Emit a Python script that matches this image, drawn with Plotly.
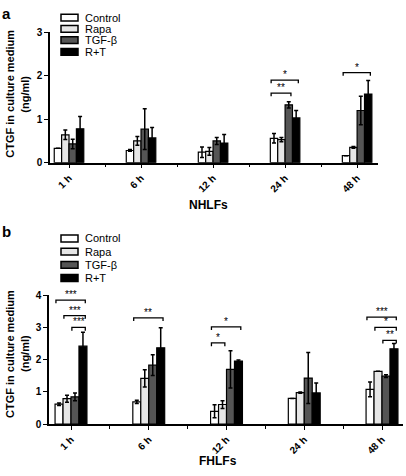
import plotly.graph_objects as go
from plotly.subplots import make_subplots

# ---------------- data ----------------
groups = ["Control", "Rapa", "TGF-β", "R+T"]
time_labels = ["1 h", "6 h", "12 h", "24 h", "48 h"]

# panel a (NHLFs)
a_control = [0.33, 0.28, 0.24, 0.56, 0.16]
a_rapa = [0.64, 0.50, 0.26, 0.53, 0.35]
a_tgf = [0.43, 0.77, 0.50, 1.33, 1.20]
a_rt = [0.78, 0.57, 0.45, 1.03, 1.58]
a_control_err = [0.0, 0.02, 0.12, 0.11, 0.0]
a_rapa_err = [0.11, 0.10, 0.09, 0.05, 0.02]
a_tgf_err = [0.11, 0.47, 0.08, 0.07, 0.33]
a_rt_err = [0.28, 0.24, 0.20, 0.17, 0.31]

# panel b (FHLFs)
b_control = [0.62, 0.69, 0.40, 0.80, 1.08]
b_rapa = [0.79, 1.42, 0.61, 0.98, 1.64]
b_tgf = [0.85, 1.83, 1.70, 1.43, 1.49]
b_rt = [2.42, 2.37, 1.96, 0.97, 2.34]
b_control_err = [0.04, 0.05, 0.20, 0.0, 0.23]
b_rapa_err = [0.11, 0.27, 0.12, 0.02, 0.0]
b_tgf_err = [0.12, 0.32, 0.58, 0.79, 0.04]
b_rt_err = [0.43, 0.62, 0.03, 0.31, 0.16]

# significance: (group index, bar from, bar to, height, label)
a_sig = [(3, 0, 2, 1.60, "**"), (3, 0, 3, 1.90, "*"), (4, 0, 3, 2.07, "*")]
b_sig = [(0, 0, 3, 3.85, "***"), (0, 1, 3, 3.37, "***"), (0, 2, 3, 3.00, "***"),
         (1, 0, 3, 3.30, "**"), (2, 0, 3, 3.02, "*"), (2, 0, 1, 2.52, "*"),
         (4, 0, 3, 3.32, "***"), (4, 1, 3, 3.00, "*"), (4, 2, 3, 2.60, "**")]

fill_colors = ["#ffffff", "#e6e6e6", "#555555", "#000000"]
FONT = "Arial, Liberation Sans, sans-serif"
W, H = 406, 476

fig = make_subplots(rows=2, cols=1)

xs = list(range(len(time_labels)))
panels = [
    (1, [a_control, a_rapa, a_tgf, a_rt], [a_control_err, a_rapa_err, a_tgf_err, a_rt_err]),
    (2, [b_control, b_rapa, b_tgf, b_rt], [b_control_err, b_rapa_err, b_tgf_err, b_rt_err]),
]
for row, vals, errs in panels:
    for i, g in enumerate(groups):
        fig.add_trace(go.Bar(
            x=xs, y=vals[i], name=g, showlegend=False, hoverinfo="skip",
            offsetgroup=str(i),
            marker=dict(color=fill_colors[i], line=dict(color="black", width=1.2)),
            error_y=dict(type="data", array=errs[i], symmetric=True,
                         color="black", thickness=1.5, width=2),
        ), row=row, col=1)

BARGAP = 0.59
bar_w = (1 - BARGAP) / 4
offsets = [(-1.5 + k) * bar_w for k in range(4)]

fig.update_layout(
    width=W, height=H, barmode="group", bargap=BARGAP, bargroupgap=0,
    margin=dict(l=0, r=0, t=0, b=0),
    plot_bgcolor="white", paper_bgcolor="white",
    font=dict(family=FONT, color="black", size=10),
)

def xd(p0, p1):
    return [p0 / W, p1 / W]

def yd(top, bottom):
    return [(H - bottom) / H, (H - top) / H]

xcommon = dict(
    tickmode="array", tickvals=xs, ticktext=time_labels, tickangle=-45,
    ticks="outside", ticklen=4, tickwidth=1.2, tickcolor="black",
    showline=True, linecolor="black", linewidth=1.5, showgrid=False, zeroline=False,
    minor=dict(tickvals=[0.5, 1.5, 2.5, 3.5], ticks="outside", ticklen=3,
               tickwidth=1.2, tickcolor="black", showgrid=False),
    tickfont=dict(family=FONT, size=10, color="black", weight="bold"),
)
ycommon = dict(
    ticks="outside", ticklen=4, tickwidth=1.2, tickcolor="black",
    showline=True, linecolor="black", linewidth=1.5, showgrid=False, zeroline=False,
    tickfont=dict(family=FONT, size=10, color="black", weight="bold"), dtick=1,
)
fig.update_xaxes(**xcommon)
fig.update_yaxes(**ycommon)
fig.update_xaxes(domain=xd(50, 378), range=[-0.264, 4.29], row=1, col=1)
fig.update_yaxes(domain=yd(27, 160.7), range=[0, 3], row=1, col=1)
fig.update_xaxes(domain=xd(49, 403), range=[-0.283, 4.27], row=2, col=1)
fig.update_yaxes(domain=yd(296.7, 429), range=[0, 4], row=2, col=1)

# significance brackets
def add_sig(sigs, xref, yref, leg):
    for g, b0, b1, h, lab in sigs:
        x0 = g + offsets[b0] - 0.04
        x1 = g + offsets[b1] + 0.03
        fig.add_shape(type="path",
                      path=f"M {x0} {h - leg} L {x0} {h} L {x1} {h} L {x1} {h - leg}",
                      xref=xref, yref=yref, line=dict(color="black", width=1.3))
        fig.add_annotation(x=(x0 + x1) / 2, y=h, xref=xref, yref=yref, text=lab,
                           showarrow=False, yanchor="bottom", yshift=-2,
                           font=dict(family=FONT, size=10, color="black"))

add_sig(a_sig, "x", "y", 0.07)
add_sig(b_sig, "x2", "y2", 0.1)

# custom legends
def add_legend(centers):
    for i, (g, cy) in enumerate(zip(groups, centers)):
        fig.add_shape(type="rect", xref="paper", yref="paper",
                      x0=61 / W, x1=78 / W, y0=(H - cy - 3.5) / H, y1=(H - cy + 3.5) / H,
                      fillcolor=fill_colors[i], line=dict(color="black", width=1.5))
        fig.add_annotation(x=83 / W, y=(H - cy) / H, xref="paper", yref="paper",
                           text=g, showarrow=False, xanchor="left", yanchor="middle",
                           font=dict(family=FONT, size=11, color="black"))

add_legend([12, 23.5, 35, 47])
add_legend([238.5, 252, 265.5, 279])

def txt(x, y, s, size, bold=True, angle=0):
    fig.add_annotation(x=x / W, y=(H - y) / H, xref="paper", yref="paper", text=s,
                       showarrow=False, xanchor="center", yanchor="middle", textangle=angle,
                       font=dict(family=FONT, size=size, color="black",
                                 weight="bold" if bold else "normal"))

txt(6, 8, "a", 15)
txt(6, 231, "b", 15)
txt(10, 90, "CTGF in culture medium", 11, angle=-90)
txt(25, 91, "(ng/ml)", 11, angle=-90)
txt(10, 357, "CTGF in culture medium", 11, angle=-90)
txt(25, 357, "(ng/ml)", 11, angle=-90)
txt(208, 204, "NHLFs", 12)
txt(218, 467, "FHLFs", 12)

fig.write_html(
    "out.html",
    config={"displayModeBar": False},
    post_script="document.body.style.margin='0';document.body.style.overflow='hidden';",
)
